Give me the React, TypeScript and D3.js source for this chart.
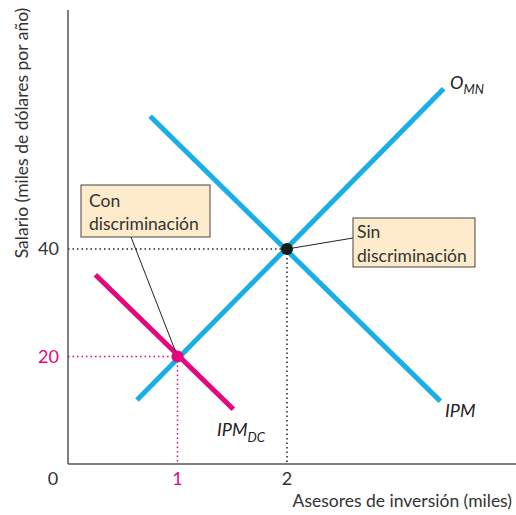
import React from "react";
import * as d3 from "d3";

const xTicks = [1, 2];
const yTicks = [20, 40];
const omn: [number, number][] = [[0.63, 11.9], [3.43, 69.8]];
const ipm: [number, number][] = [[0.75, 64.7], [3.4, 11.7]];
const ipmDC: [number, number][] = [[0.25, 35.2], [1.51, 10.2]];
const eqSin: [number, number] = [2, 40];
const eqCon: [number, number] = [1, 20];

const BLUE = "#1aaee6";
const PINK = "#e5067f";
const FONT = "Lato, 'Open Sans', sans-serif";

export default function App() {
  const x = d3.scaleLinear().domain([0, 2]).range([68, 287]);
  const y = d3.scaleLinear().domain([0, 40]).range([464, 249]);
  const line = d3.line<[number, number]>().x(d => x(d[0])).y(d => y(d[1]));
  const xMax = x.invert(516);
  const yMax = y.invert(10);

  const sx = x(eqSin[0]), sy = y(eqSin[1]);
  const cx = x(eqCon[0]), cy = y(eqCon[1]);

  return (
    <svg width={516} height={515} style={{ position: "absolute", left: 0, top: 0, background: "#fff" }} fontFamily={FONT}>
      {/* guides */}
      <line x1={x(0)} x2={sx} y1={sy} y2={sy} stroke="#222" strokeWidth={1.5} strokeDasharray="1.5 3" />
      <line x1={sx} x2={sx} y1={sy} y2={y(0)} stroke="#222" strokeWidth={1.5} strokeDasharray="1.5 3" />
      <line x1={x(0)} x2={cx} y1={cy} y2={cy} stroke={PINK} strokeWidth={1.5} strokeDasharray="1.5 3" />
      <line x1={cx} x2={cx} y1={cy} y2={y(0)} stroke={PINK} strokeWidth={1.5} strokeDasharray="1.5 3" />

      {/* axes */}
      <line x1={x(0)} x2={x(0)} y1={y(yMax)} y2={y(0)} stroke="#555" strokeWidth={1.5} />
      <line x1={x(0)} x2={x(xMax)} y1={y(0)} y2={y(0)} stroke="#555" strokeWidth={1.5} />

      {/* curves */}
      <path d={line(omn) || ""} stroke={BLUE} strokeWidth={5} fill="none" />
      <path d={line(ipm) || ""} stroke={BLUE} strokeWidth={5} fill="none" />
      <path d={line(ipmDC) || ""} stroke={PINK} strokeWidth={5} fill="none" />

      {/* leader lines */}
      <line x1={sx} y1={sy} x2={353} y2={238} stroke="#222" strokeWidth={1} />
      <line x1={cx} y1={cy} x2={131} y2={237} stroke="#222" strokeWidth={1} />

      {/* points */}
      <circle cx={sx} cy={sy} r={6} fill="#1a1a1a" />
      <circle cx={cx} cy={cy} r={6} fill={PINK} />

      {/* boxes */}
      <rect x={81} y={185} width={129} height={52} fill="#fdebcb" stroke="#444" strokeWidth={1} />
      <text x={89} y={207} fontSize={17.5} fill="#333">Con</text>
      <text x={89} y={230} fontSize={17.5} fill="#333">discriminación</text>
      <rect x={353} y={218} width={122} height={49} fill="#fdebcb" stroke="#444" strokeWidth={1} />
      <text x={357} y={238} fontSize={17.5} fill="#333">Sin</text>
      <text x={357} y={262} fontSize={17.5} fill="#333">discriminación</text>

      {/* curve labels */}
      <text x={450} y={89} fontSize={18} fill="#222" fontStyle="italic">O<tspan fontSize={13} dy={5}>MN</tspan></text>
      <text x={445} y={417} fontSize={18} fill="#222" fontStyle="italic">IPM</text>
      <text x={217} y={436} fontSize={18} fill="#222" fontStyle="italic">IPM<tspan fontSize={13} dy={6}>DC</tspan></text>

      {/* ticks */}
      <text x={53} y={485} fontSize={18} fill="#333" textAnchor="middle">0</text>
      {xTicks.map(t => (
        <text key={t} x={x(t)} y={485} fontSize={18} textAnchor="middle" fill={t === 1 ? PINK : "#333"}>{t}</text>
      ))}
      {yTicks.map(t => (
        <text key={t} x={59} y={y(t) + 6} fontSize={18} textAnchor="end" fill={t === 20 ? PINK : "#333"}>{t}</text>
      ))}

      {/* axis titles */}
      <text x={512} y={507} fontSize={17.5} textAnchor="end" fill="#333">Asesores de inversión (miles)</text>
      <text transform="translate(28,133) rotate(-90)" fontSize={17.5} textAnchor="middle" fill="#333">Salario (miles de dólares por año)</text>
    </svg>
  );
}
